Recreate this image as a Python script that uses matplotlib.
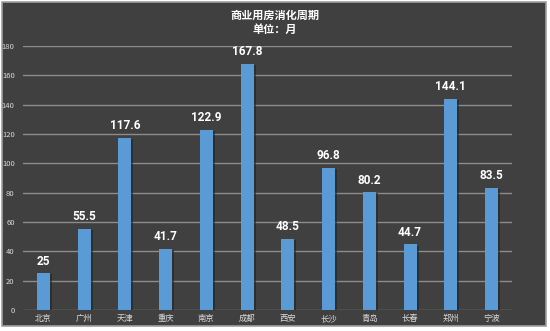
import matplotlib
matplotlib.use("Agg")
import matplotlib.pyplot as plt
from matplotlib.patches import Rectangle
import matplotlib.patheffects as pe

plt.rcParams['font.family'] = ['Noto Sans CJK SC', 'DejaVu Sans']

cities = ["北京", "广州", "天津", "重庆", "南京", "成都", "西安", "长沙", "青岛", "长春", "郑州", "宁波"]
months = [25, 55.5, 117.6, 41.7, 122.9, 167.8, 48.5, 96.8, 80.2, 44.7, 144.1, 83.5]
yticks = list(range(0, 181, 20))

W, H = 550, 331
fig = plt.figure(figsize=(W / 100, H / 100), dpi=100, facecolor="white")

# dark panel behind the chart
panel = Rectangle((2 / W, 5 / H), 544 / W, 324 / H, transform=fig.transFigure,
                  facecolor="#404040", edgecolor="#a0a0a0", linewidth=1.2, zorder=-5)
fig.patches.append(panel)

ax = fig.add_axes([23 / W, 21 / H, 489 / W, 264 / H])
ax.set_facecolor("none")

x = range(len(cities))
bars = ax.bar(x, months, width=0.32, color="#5b9bd5", zorder=3)
for b in bars:
    b.set_path_effects([pe.SimplePatchShadow(offset=(1.5, -0.8), shadow_rgbFace="#222222", alpha=0.6),
                        pe.Normal()])

for xi, v in zip(x, months):
    ax.annotate(f"{v:g}", (xi, v), xytext=(0, 4), textcoords="offset points",
                ha="center", va="bottom", color="white", fontsize=8.5, fontweight="bold",
                family=["Roboto", "DejaVu Sans"])

ax.set_xlim(-0.5, len(cities) - 0.5)
ax.set_ylim(0, 180)
ax.set_yticks(yticks)
ax.set_xticks(list(x))
ax.set_xticklabels(cities, fontsize=6, color="#d9d9d9")
ax.tick_params(axis="y", labelsize=5.5, colors="#d9d9d9", length=0, pad=6)
ax.tick_params(axis="x", length=0, pad=3)
ax.grid(axis="y", color="#8c8c8c", linewidth=1.0, zorder=1)
for s in ax.spines.values():
    s.set_visible(False)

fig.text(0.5, 1 - 15 / H, "商业用房消化周期", ha="center", va="center",
         color="white", fontsize=8, fontweight="bold")
fig.text(0.5, 1 - 29 / H, "单位：月", ha="center", va="center",
         color="white", fontsize=8, fontweight="bold")

fig.savefig("out.png", dpi=100, facecolor=fig.get_facecolor())
